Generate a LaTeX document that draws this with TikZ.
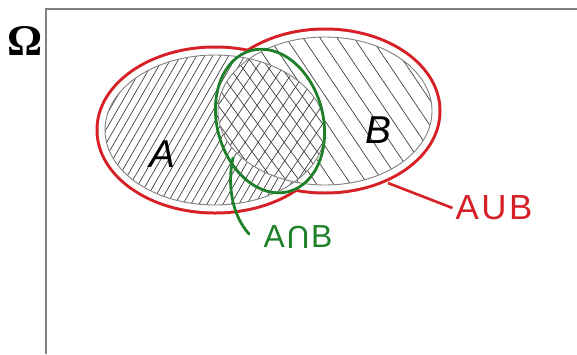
\documentclass[tikz,border=0pt]{standalone}
\usepackage{graphicx}
\usepackage{fontspec}
\setmainfont{Liberation Sans}
\newfontfamily\omegafont{Liberation Serif}
\definecolor{unionred}{RGB}{214,32,38}
\definecolor{capgreen}{RGB}{30,128,40}
\definecolor{framegray}{RGB}{128,128,128}
\definecolor{hatchgray}{RGB}{55,55,55}
\newcommand{\capsign}{\rotatebox[origin=c]{180}{U}}
\tikzset{
  frameline/.style={framegray, line width=1.3bp},
  hatchline/.style={hatchgray, line width=0.65bp},
  setoutline/.style={gray, line width=0.9bp},
  redband/.style={unionred, line width=6bp},
  redline/.style={unionred, line width=2.6bp},
  greenline/.style={capgreen, line width=2.8bp, line cap=round},
  setlabel/.style={inner sep=0pt, font=\fontsize{39}{39}\selectfont\itshape},
  bigtag/.style={inner sep=0pt, font=\fontsize{35}{35}\selectfont}
}
\begin{document}
\begin{tikzpicture}[x=1bp,y=-1bp]
\useasboundingbox (0,0) rectangle (577,354);
\fill[white] (0,0) rectangle (577,354);

% frame of the sample space
\draw[frameline] (46,354) -- (46,9) -- (577,9);
\node[inner sep=0pt, font=\fontsize{44}{44}\selectfont\omegafont\bfseries] (omega) at (25,41) {Ω};

% red outline of the union: thick strokes, inner halves covered
\draw[redband] (215,130) ellipse [x radius=116.5, y radius=81.5];
\draw[redband] (325,111) ellipse [x radius=113.5, y radius=80.5];
\fill[white] (215,130) ellipse [x radius=116.5, y radius=81.5];
\fill[white] (325,111) ellipse [x radius=113.5, y radius=80.5];

% hatching of A
\begin{scope}
  \clip (215,130) ellipse [x radius=110, y radius=75];
  \foreach \i in {-48,-40,...,344} \draw[hatchline] (\i,230) -- ++(130,-225);
\end{scope}
% hatching of B
\begin{scope}
  \clip (325,111) ellipse [x radius=107, y radius=74];
  \fill[white] (200,20) rectangle (450,200);
  \foreach \i in {70,87,...,450} \draw[hatchline] (\i,20) -- ++(128,190);
\end{scope}
% cross-hatching of the intersection
\begin{scope}
  \clip (215,130) ellipse [x radius=110, y radius=75];
  \clip (325,111) ellipse [x radius=107, y radius=74];
  \fill[white] (200,20) rectangle (350,220);
  \foreach \i in {92,105,...,340} {
    \draw[hatchline] (\i,215) -- ++(115,-170);
    \draw[hatchline] (\i,40) -- ++(125,170);
  }
\end{scope}

% outlines of A and B
\draw[setoutline] (215,130) ellipse [x radius=110, y radius=75];
\draw[setoutline] (325,111) ellipse [x radius=107, y radius=74];

% set labels
\node[setlabel] (la) at (162,154) {A};
\node[setlabel] (lb) at (378,130) {B};

% intersection loop and its tag
\draw[greenline, rotate around={15:(270,121)}] (270,121) ellipse [x radius=53, y radius=73];
\node[bigtag, text=capgreen, font=\fontsize{32}{32}\selectfont] (inter) at (298,237) {A\kern1.5bp\capsign\kern1.5bpB};
\coordinate (gstart) at (233,158);
\coordinate (gend) at (249,234);
\draw[greenline] (gstart) .. controls (227,185) and (232,215) .. (gend);

% union tag
\node[bigtag, text=unionred] (union) at (494,208) {A\kern2.5bpU\kern2.5bpB};
\coordinate (rstart) at (388,183);
\draw[redline] (rstart) -- ([xshift=-3bp]union.west);
\end{tikzpicture}
\end{document}
